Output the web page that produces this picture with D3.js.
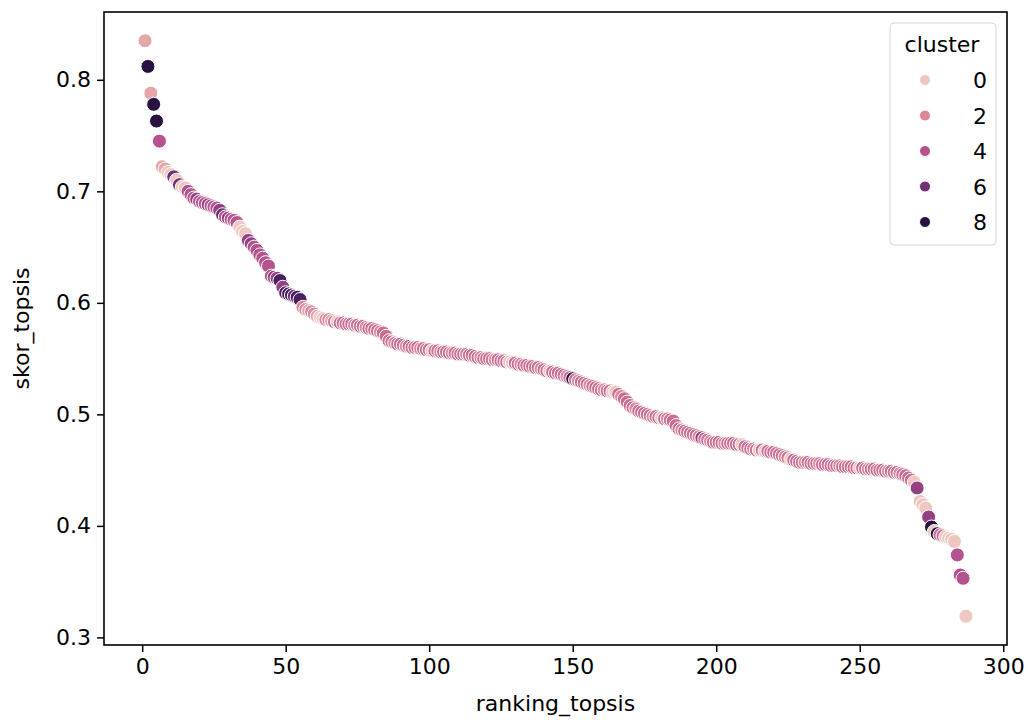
<!DOCTYPE html>
<html>
<head>
<meta charset="utf-8">
<script src="https://cdn.jsdelivr.net/npm/d3@7"></script>
<style>
  body { margin: 0; background: #fff; }
  text { font-family: "DejaVu Sans", sans-serif; fill: #000; }
</style>
</head>
<body>
<svg id="chart" width="1028" height="720"></svg>
<script>
// skor_topsis for ranking 1..287
var skor = [
  0.835, 0.812, 0.788, 0.778, 0.763, 0.745, 0.722, 0.720, 0.717, 0.715,
  0.713, 0.710, 0.706, 0.704, 0.703, 0.700, 0.697, 0.694, 0.693, 0.691,
  0.690, 0.689, 0.688, 0.687, 0.686, 0.685, 0.683, 0.679, 0.677, 0.676,
  0.675, 0.674, 0.672, 0.668, 0.664, 0.662, 0.656, 0.653, 0.650, 0.647,
  0.643, 0.640, 0.636, 0.633, 0.624, 0.623, 0.622, 0.620, 0.614, 0.609,
  0.608, 0.607, 0.606, 0.605, 0.603, 0.596, 0.594, 0.593, 0.592, 0.590,
  0.588, 0.587, 0.586, 0.585, 0.585, 0.584, 0.583, 0.583, 0.582, 0.582,
  0.581, 0.581, 0.581, 0.580, 0.580, 0.579, 0.579, 0.578, 0.577, 0.577,
  0.576, 0.575, 0.574, 0.573, 0.570, 0.566, 0.565, 0.564, 0.563, 0.563,
  0.562, 0.561, 0.561, 0.560, 0.560, 0.560, 0.559, 0.559, 0.558, 0.558,
  0.557, 0.557, 0.557, 0.556, 0.556, 0.556, 0.555, 0.555, 0.555, 0.554,
  0.554, 0.554, 0.554, 0.553, 0.553, 0.552, 0.551, 0.551, 0.550, 0.550,
  0.550, 0.549, 0.549, 0.549, 0.548, 0.548, 0.547, 0.547, 0.546, 0.546,
  0.545, 0.545, 0.544, 0.544, 0.543, 0.543, 0.542, 0.542, 0.541, 0.540,
  0.539, 0.539, 0.538, 0.537, 0.537, 0.536, 0.535, 0.534, 0.533, 0.532,
  0.531, 0.530, 0.529, 0.528, 0.527, 0.526, 0.525, 0.524, 0.523, 0.522,
  0.522, 0.521, 0.521, 0.520, 0.520, 0.518, 0.516, 0.514, 0.511, 0.508,
  0.506, 0.505, 0.503, 0.502, 0.501, 0.500, 0.499, 0.498, 0.498, 0.497,
  0.497, 0.496, 0.496, 0.495, 0.494, 0.490, 0.487, 0.486, 0.485, 0.484,
  0.483, 0.482, 0.481, 0.480, 0.479, 0.478, 0.477, 0.476, 0.475, 0.475,
  0.475, 0.474, 0.474, 0.474, 0.474, 0.474, 0.473, 0.473, 0.473, 0.471,
  0.470, 0.469, 0.469, 0.468, 0.468, 0.468, 0.467, 0.467, 0.466, 0.466,
  0.465, 0.464, 0.463, 0.462, 0.461, 0.460, 0.459, 0.458, 0.457, 0.457,
  0.457, 0.457, 0.456, 0.456, 0.456, 0.456, 0.455, 0.455, 0.455, 0.454,
  0.454, 0.454, 0.454, 0.453, 0.453, 0.453, 0.453, 0.452, 0.452, 0.452,
  0.452, 0.451, 0.451, 0.451, 0.451, 0.450, 0.450, 0.450, 0.449, 0.449,
  0.449, 0.448, 0.448, 0.447, 0.446, 0.445, 0.443, 0.441, 0.439, 0.434,
  0.422, 0.419, 0.416, 0.408, 0.399, 0.395, 0.393, 0.392, 0.391, 0.390,
  0.389, 0.388, 0.386, 0.374, 0.356, 0.353, 0.319
];

// cluster label for each ranking, same order
var cluster = [
  1, 8, 1, 8, 8, 4, 1, 1, 0, 0,
  6, 0, 6, 0, 0, 4, 4, 4, 5, 4,
  4, 4, 5, 4, 4, 4, 5, 6, 4, 5,
  4, 4, 4, 0, 0, 0, 5, 5, 4, 4,
  4, 4, 4, 4, 4, 5, 5, 7, 5, 7,
  7, 7, 6, 7, 7, 2, 2, 1, 2, 2,
  1, 0, 0, 2, 2, 1, 3, 0, 3, 3,
  3, 3, 3, 2, 3, 3, 3, 2, 3, 3,
  3, 3, 2, 3, 3, 3, 3, 2, 3, 3,
  3, 2, 3, 3, 3, 3, 2, 3, 3, 3,
  0, 3, 3, 2, 3, 3, 3, 2, 3, 3,
  3, 3, 2, 3, 3, 3, 3, 2, 3, 3,
  3, 3, 2, 3, 3, 3, 3, 0, 0, 3,
  3, 2, 3, 3, 3, 3, 3, 3, 2, 3,
  3, 0, 3, 3, 3, 3, 3, 2, 3, 8,
  3, 2, 3, 3, 3, 2, 3, 3, 3, 3,
  2, 3, 3, 0, 0, 3, 2, 3, 3, 3,
  3, 2, 3, 3, 3, 3, 3, 2, 3, 3,
  0, 3, 2, 3, 3, 3, 3, 2, 3, 3,
  3, 3, 3, 2, 5, 3, 3, 2, 3, 3,
  3, 3, 2, 3, 3, 3, 3, 3, 0, 3,
  3, 3, 2, 3, 0, 3, 0, 3, 3, 3,
  3, 3, 3, 2, 3, 0, 3, 3, 3, 3,
  2, 3, 3, 3, 3, 2, 3, 3, 3, 3,
  3, 3, 2, 3, 3, 3, 3, 3, 3, 0,
  3, 3, 2, 3, 3, 3, 3, 3, 3, 2,
  3, 3, 3, 2, 3, 3, 3, 3, 0, 5,
  0, 0, 0, 5, 8, 0, 8, 3, 3, 0,
  0, 0, 0, 4, 4, 4, 0
];

var xTicks = [0, 50, 100, 150, 200, 250, 300];
var yTicks = [0.3, 0.4, 0.5, 0.6, 0.7, 0.8];
var legendLevels = [0, 2, 4, 6, 8];

var data = skor.map(function(v, i) {
  return { rank: i + 1, skor: v, cluster: cluster[i] };
});

var plotL = 104, plotR = 1007, plotT = 12, plotB = 645;
var svg = d3.select('#chart');

// seaborn-like 5% padding on both axes
var xExt = d3.extent(data, function(d) { return d.rank; });
var yExt = d3.extent(data, function(d) { return d.skor; });
var xPad = (xExt[1] - xExt[0]) * 0.05;
var yPad = (yExt[1] - yExt[0]) * 0.05;

var x = d3.scaleLinear()
  .domain([xExt[0] - xPad, xExt[1] + xPad])
  .range([plotL, plotR]);
var y = d3.scaleLinear()
  .domain([yExt[0] - yPad, yExt[1] + yPad])
  .range([plotB, plotT]);

// default seaborn cubehelix ramp (light -> dark), a bit more saturated like the picture
var cubehelix = function(t) {
  var v = 0.85 - 0.7 * t;
  var a = 0.8 * v * (1 - v) / 2;
  var phi = 2 * Math.PI * (0.4 * v);
  var c = Math.cos(phi), s = Math.sin(phi);
  var r = v + a * (-0.14861 * c + 1.78277 * s);
  var g = v + a * (-0.29227 * c - 0.90649 * s);
  var b = v + a * (1.97294 * c);
  var clamp = function(u) { return Math.max(0, Math.min(1, u)) * 255; };
  var col = d3.hsl(d3.rgb(clamp(r), clamp(g), clamp(b)));
  col.s = Math.min(1, col.s * (1.15 + 0.5 * t));
  col.l = col.l - 0.02;
  return col.formatHex();
};
var hue = d3.scaleLinear().domain(d3.extent(cluster)).range([0, 1]);
var color = function(k) { return cubehelix(hue(k)); };

// points
svg.append('g')
  .selectAll('circle')
  .data(data)
  .enter()
  .append('circle')
  .attr('cx', function(d) { return x(d.rank); })
  .attr('cy', function(d) { return y(d.skor); })
  .attr('r', 7)
  .attr('fill', function(d) { return color(d.cluster); })
  .attr('stroke', '#fff')
  .attr('stroke-width', 1);

// axes
var xAxis = svg.append('g')
  .attr('transform', 'translate(0,' + plotB + ')')
  .call(d3.axisBottom(x).tickValues(xTicks).tickSize(7).tickPadding(6).tickFormat(d3.format('d')));
var yAxis = svg.append('g')
  .attr('transform', 'translate(' + plotL + ',0)')
  .call(d3.axisLeft(y).tickValues(yTicks).tickSize(7).tickPadding(6).tickFormat(d3.format('.1f')));

[xAxis, yAxis].forEach(function(ax) {
  ax.select('.domain').remove();
  ax.selectAll('.tick line').attr('stroke', '#000').attr('stroke-width', 1.5);
  ax.selectAll('.tick text')
    .style('font-family', '"DejaVu Sans", sans-serif')
    .style('font-size', '22px')
    .attr('fill', '#000');
});

// frame
svg.append('rect')
  .attr('x', plotL)
  .attr('y', plotT)
  .attr('width', plotR - plotL)
  .attr('height', plotB - plotT)
  .attr('fill', 'none')
  .attr('stroke', '#000')
  .attr('stroke-width', 1.6);

// axis labels
svg.append('text')
  .attr('x', (plotL + plotR) / 2)
  .attr('y', 711)
  .attr('text-anchor', 'middle')
  .style('font-size', '22px')
  .text('ranking_topsis');

svg.append('text')
  .attr('transform', 'translate(29,' + (plotT + plotB) / 2 + ') rotate(-90)')
  .attr('text-anchor', 'middle')
  .style('font-size', '22px')
  .text('skor_topsis');

// legend
var lg = svg.append('g');
lg.append('rect')
  .attr('x', 890)
  .attr('y', 23)
  .attr('width', 106)
  .attr('height', 222)
  .attr('rx', 4)
  .attr('fill', '#fff')
  .attr('fill-opacity', 0.8)
  .attr('stroke', '#d6d6d6')
  .attr('stroke-width', 1);

lg.append('text')
  .attr('x', 942)
  .attr('y', 52)
  .attr('text-anchor', 'middle')
  .style('font-size', '22px')
  .text('cluster');

var item = lg.selectAll('.item')
  .data(legendLevels)
  .enter()
  .append('g')
  .attr('class', 'item')
  .attr('transform', function(d, i) { return 'translate(0,' + (80 + i * 35.5) + ')'; });

item.append('circle')
  .attr('cx', 925)
  .attr('cy', 0)
  .attr('r', 5.5)
  .attr('fill', function(d) { return color(d); })
  .attr('stroke', '#fff')
  .attr('stroke-width', 1);

item.append('text')
  .attr('x', 987)
  .attr('y', 8)
  .attr('text-anchor', 'end')
  .style('font-size', '22px')
  .text(function(d) { return d; });
</script>
</body>
</html>
